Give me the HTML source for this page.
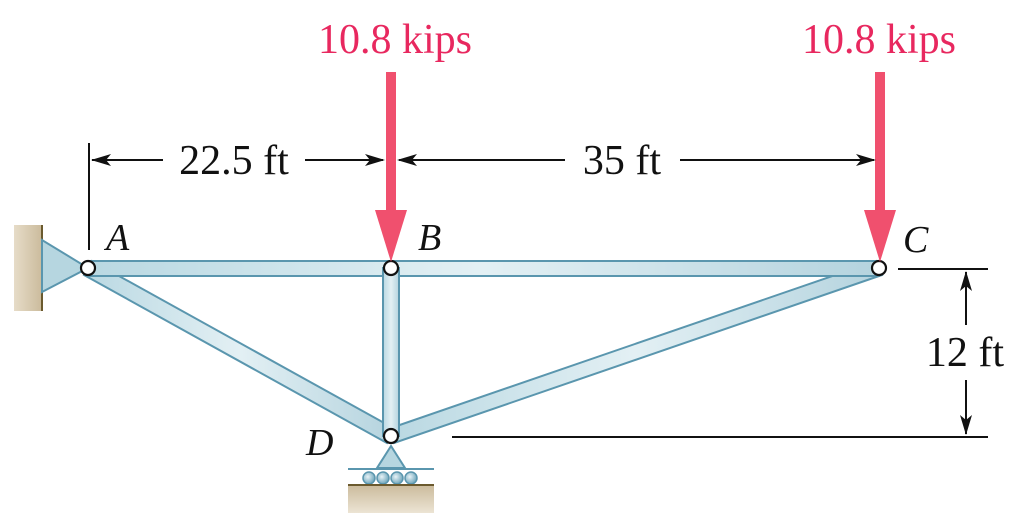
<!DOCTYPE html>
<html><head><meta charset="utf-8"><style>
html,body{margin:0;padding:0;background:#fff;}
svg{display:block;}
svg text{font-family:"Liberation Serif","DejaVu Serif",serif;}
</style></head><body>
<svg width="1020" height="529" viewBox="0 0 1020 529">
<defs>
<linearGradient id="mem" x1="0" y1="0" x2="1" y2="0">
<stop offset="0" stop-color="#b9d8e2"/><stop offset="0.5" stop-color="#e3f0f4"/><stop offset="1" stop-color="#b4d3de"/>
</linearGradient>
<linearGradient id="wall" x1="0" y1="0" x2="1" y2="0">
<stop offset="0" stop-color="#e6dcc8"/><stop offset="1" stop-color="#cbbb9c"/>
</linearGradient>
<linearGradient id="gnd" x1="0" y1="0" x2="0" y2="1">
<stop offset="0" stop-color="#cbbb9c"/><stop offset="1" stop-color="#ece4d4"/>
</linearGradient>
<radialGradient id="roll" cx="0.4" cy="0.4" r="0.6">
<stop offset="0" stop-color="#e8f3f7"/><stop offset="1" stop-color="#6fa6bb"/>
</radialGradient>
</defs>

<rect x="14" y="225" width="28" height="86" fill="url(#wall)"/>
<line x1="42" y1="225" x2="42" y2="311" stroke="#6b5a2e" stroke-width="2"/>
<polygon points="42,240 42,292 88,268" fill="#b6d6e0" stroke="#5a96ae" stroke-width="2"/>

<g stroke="#5a96ae" stroke-width="2" fill="url(#mem)">
<polygon points="84,275 92,261 395,429 387,443"/>
<polygon points="876,261 882,275 394,443 388,429"/>
<rect x="88" y="261" width="791" height="15"/>
<rect x="383" y="268" width="16" height="168"/>
</g>

<polygon points="391,446 377,468 405,468" fill="#b6d6e0" stroke="#5a96ae" stroke-width="2"/>
<line x1="348" y1="469" x2="434" y2="469" stroke="#5a96ae" stroke-width="2"/>
<g fill="url(#roll)" stroke="#5a96ae" stroke-width="1.5">
<circle cx="369" cy="478" r="6"/><circle cx="383" cy="478" r="6"/><circle cx="397" cy="478" r="6"/><circle cx="411" cy="478" r="6"/>
</g>
<rect x="348" y="485" width="86" height="28" fill="url(#gnd)"/>
<line x1="348" y1="485" x2="434" y2="485" stroke="#6b5a2e" stroke-width="2"/>

<g fill="#fff" stroke="#111" stroke-width="2.2">
<circle cx="88" cy="268" r="7"/>
<circle cx="391" cy="268" r="7"/>
<circle cx="879" cy="268" r="7"/>
<circle cx="391" cy="436" r="7"/>
</g>

<g fill="#f0506e">
<rect x="386" y="72" width="10" height="142"/>
<polygon points="375,210 407,210 391,262"/>
</g>
<g fill="#f0506e">
<rect x="875" y="72" width="10" height="142"/>
<polygon points="864,210 896,210 880,262"/>
</g>
<g font-family="Liberation Serif, DejaVu Serif, serif" font-size="42" fill="#e8285f" text-anchor="middle">
<text x="395" y="53">10.8 kips</text>
<text x="879" y="53">10.8 kips</text>
</g>

<g stroke="#111" stroke-width="2" fill="none">
<line x1="89" y1="143" x2="89" y2="250"/>
<line x1="92" y1="160" x2="163" y2="160"/>
<line x1="305" y1="160" x2="383" y2="160"/>
<line x1="399" y1="160" x2="565" y2="160"/>
<line x1="680" y1="160" x2="874" y2="160"/>
<line x1="898" y1="269" x2="988" y2="269"/>
<line x1="452" y1="437" x2="988" y2="437"/>
<line x1="966" y1="272" x2="966" y2="325"/>
<line x1="966" y1="380" x2="966" y2="434"/>
</g>
<g fill="#111">
<polygon points="91,160 111,154 106,160 111,166"/>
<polygon points="385,160 365,154 370,160 365,166"/>
<polygon points="397,160 417,154 412,160 417,166"/>
<polygon points="876,160 856,154 861,160 856,166"/>
<polygon points="966,271 960,291 966,286 972,291"/>
<polygon points="966,435 960,415 966,420 972,415"/>
</g>
<g font-family="Liberation Serif, DejaVu Serif, serif" font-size="42" fill="#111" text-anchor="middle">
<text x="234" y="174">22.5 ft</text>
<text x="622" y="174">35 ft</text>
<text x="965" y="366">12 ft</text>
</g>

<g font-family="Liberation Serif, DejaVu Serif, serif" font-size="38" font-style="italic" fill="#111">
<text x="106" y="250">A</text>
<text x="418" y="250">B</text>
<text x="903" y="252">C</text>
<text x="306" y="455">D</text>
</g>
</svg>
</body></html>
